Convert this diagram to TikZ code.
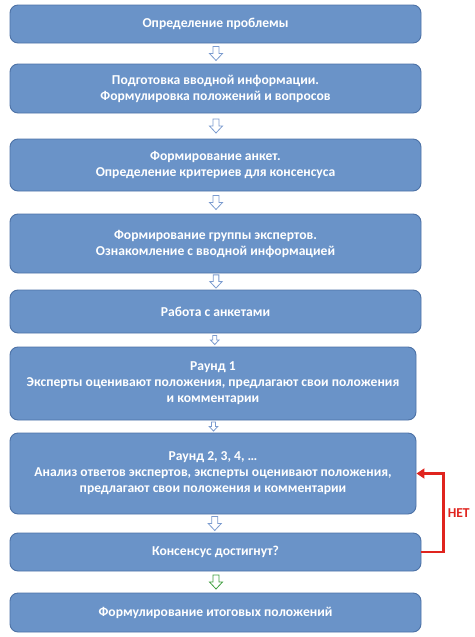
\documentclass[tikz,border=0pt]{standalone}
\usepackage{fontspec}
\setmainfont{Carlito}
\usepackage{xcolor}
\usepackage{tikz}
\usetikzlibrary{positioning,calc,arrows.meta}

\definecolor{boxblue}{HTML}{6A93C8}
\definecolor{boxedge}{HTML}{4D72A6}
\definecolor{arrowblue}{HTML}{7B9BCF}
\definecolor{arrowgreen}{HTML}{3E9E3E}
\definecolor{nored}{HTML}{E0241E}

\tikzset{
	stagebox/.style={draw=boxedge, fill=boxblue, line width=0.9pt, rounded corners=8pt,
		text=white, font=\bfseries\fontsize{13.6}{16}\selectfont, align=center,
		minimum width=411pt, inner sep=0pt},
	hollowdown/.pic={
		\draw[pic actions, line width=0.8pt, line join=miter]
			(-3,7) -- (3,7) -- (3,0) -- (6.5,0) -- (0,-7) -- (-6.5,0) -- (-3,0) -- cycle;
	},
	backlink/.style={draw=nored, line width=2.6pt, -{Triangle[length=8pt,width=10pt]}},
}

\begin{document}
\begin{tikzpicture}[x=1pt, y=1pt]
	\useasboundingbox (0,0) rectangle (474,-637);

	\node[stagebox, minimum height=38pt] (b1) at (215.5,-24) {Определение проблемы};
	\node[stagebox, minimum height=49pt] (b2) at (215.5,-88.5)
		{Подготовка вводной информации.\\Формулировка положений и вопросов};
	\node[stagebox, minimum height=52pt] (b3) at (215.5,-165)
		{Формирование анкет.\\Определение критериев для консенсуса};
	\node[stagebox, minimum height=59pt] (b4) at (215.5,-243.5)
		{Формирование группы экспертов.\\Ознакомление с вводной информацией};
	\node[stagebox, minimum height=43pt] (b5) at (215.5,-311.5) {Работа с анкетами};
	\node[stagebox, minimum height=73pt, minimum width=406pt] (b6) at (213,-383.5)
		{Раунд 1\\Эксперты оценивают положения, предлагают свои положения\\и комментарии};
	\node[stagebox, minimum height=81pt, minimum width=406pt] (b7) at (213,-473.5)
		{Раунд 2, 3, 4, \dots\\Анализ ответов экспертов, эксперты оценивают положения,\\предлагают свои положения и комментарии};
	\node[stagebox, minimum height=38pt] (b8) at (215.5,-552) {Консенсус достигнут?};
	\node[stagebox, minimum height=39pt] (b9) at (215.5,-612.5) {Формулирование итоговых положений};

	% hollow arrows between the stages
	\foreach \a/\b/\s in {b1/b2/1, b2/b3/1, b3/b4/1, b4/b5/0.95, b5/b6/0.65, b6/b7/0.65, b7/b8/1}
		\pic[draw=arrowblue, fill=white, scale=\s] at ($(\a.south)!0.5!(\b.north)+(0.5,0)$) {hollowdown};
	\pic[draw=arrowgreen, fill=white] at ($(b8.south)!0.5!(b9.north)+(0.5,0)$) {hollowdown};

	% loop back when no consensus
	\draw[backlink] (b8.east) -- ++(22,0) |- node[pos=0.25, right, text=nored,
		font=\bfseries\fontsize{13.6}{16}\selectfont, inner sep=3pt] (net) {НЕТ} (b7.east);
\end{tikzpicture}
\end{document}
